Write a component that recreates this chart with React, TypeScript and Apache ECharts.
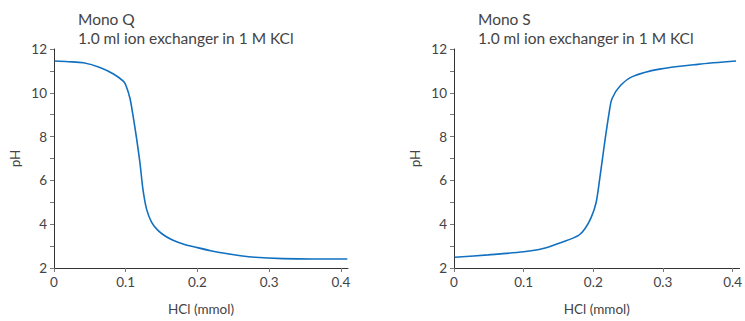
import React, { useEffect, useRef } from "react";
import * as echarts from "echarts";

const monoQ: [number, number][] = [
  [0.001, 11.45], [0.02, 11.42], [0.041, 11.37], [0.064, 11.16], [0.083, 10.86],
  [0.097, 10.52], [0.101, 10.28], [0.106, 9.74], [0.11, 9.0], [0.115, 7.95],
  [0.12, 6.76], [0.124, 5.6], [0.129, 4.7], [0.136, 4.1], [0.145, 3.72],
  [0.155, 3.46], [0.166, 3.27], [0.18, 3.1], [0.2, 2.93], [0.22, 2.78],
  [0.24, 2.66], [0.26, 2.56], [0.28, 2.49], [0.319, 2.43],
  [0.36, 2.41], [0.409, 2.41],
];

const monoS: [number, number][] = [
  [0.001, 2.49], [0.049, 2.6], [0.1, 2.74], [0.128, 2.89], [0.155, 3.18],
  [0.179, 3.49], [0.188, 3.79], [0.197, 4.31], [0.204, 4.98], [0.209, 6.02],
  [0.216, 7.65], [0.223, 9.14], [0.227, 9.74], [0.239, 10.33], [0.257, 10.75],
  [0.295, 11.08], [0.35, 11.3], [0.405, 11.45],
];

const titles = ["Mono Q", "Mono S"];
const subtitle = "1.0 ml ion exchanger in 1 M KCl";
const xName = "HCl (mmol)";
const yName = "pH";

const FONT = "Lato, 'Noto Sans', sans-serif";
const TXT = "#444";

export default function App() {
  const ref = useRef<HTMLDivElement>(null);
  useEffect(() => {
    document.body.style.margin = "0";
    const chart = echarts.init(ref.current!, undefined, { renderer: "svg" });
    const grids = [
      { left: 54, top: 49, width: 294, height: 225 },
      { left: 454, top: 49, width: 294, height: 225 },
    ];
    const xAxis = grids.map((_, i) => ({
      type: "value",
      gridIndex: i,
      min: 0,
      max: 0.41,
      interval: 0.1,
      name: xName,
      nameLocation: "middle",
      nameGap: 34,
      nameTextStyle: { color: TXT, fontSize: 13.5, fontFamily: FONT },
      axisLine: { show: true, lineStyle: { color: "#333", width: 1 } },
      axisTick: { show: true, length: 4, lineStyle: { color: "#777" } },
      axisLabel: { color: TXT, fontSize: 13.5, fontFamily: FONT, margin: 7, formatter: (v: number) => String(Math.round(v * 10) / 10) },
      splitLine: { show: false },
    }));
    const yAxis = grids.map((_, i) => ({
      type: "value",
      gridIndex: i,
      min: 2,
      max: 12,
      interval: 1,
      name: yName,
      nameLocation: "middle",
      nameGap: 32,
      nameTextStyle: { color: TXT, fontSize: 13.5, fontFamily: FONT },
      axisLine: { show: true, lineStyle: { color: "#333", width: 1 } },
      axisTick: { show: true, length: 4, lineStyle: { color: "#777" } },
      axisLabel: {
        color: TXT, fontSize: 13.5, fontFamily: FONT, margin: 7,
        formatter: (v: number) => (Math.round(v) % 2 === 0 ? String(v) : ""),
      },
      splitLine: { show: false },
    }));
    const graphic: any[] = [];
    [78, 478].forEach((x, i) => {
      graphic.push({ type: "text", left: x, top: 11, style: { text: titles[i], fill: TXT, font: `15.5px ${FONT}` } });
      graphic.push({ type: "text", left: x, top: 30, style: { text: subtitle, fill: TXT, font: `15.5px ${FONT}` } });
    });
    chart.setOption({
      animation: false,
      grid: grids,
      xAxis,
      yAxis,
      graphic,
      series: [monoQ, monoS].map((d, i) => ({
        type: "line",
        xAxisIndex: i,
        yAxisIndex: i,
        data: d,
        smooth: 0.3,
        showSymbol: false,
        lineStyle: { color: "#1170c0", width: 1.6 },
      })),
    });
    return () => chart.dispose();
  }, []);
  return <div ref={ref} style={{ width: 745, height: 321, overflow: "hidden" }} />;
}
